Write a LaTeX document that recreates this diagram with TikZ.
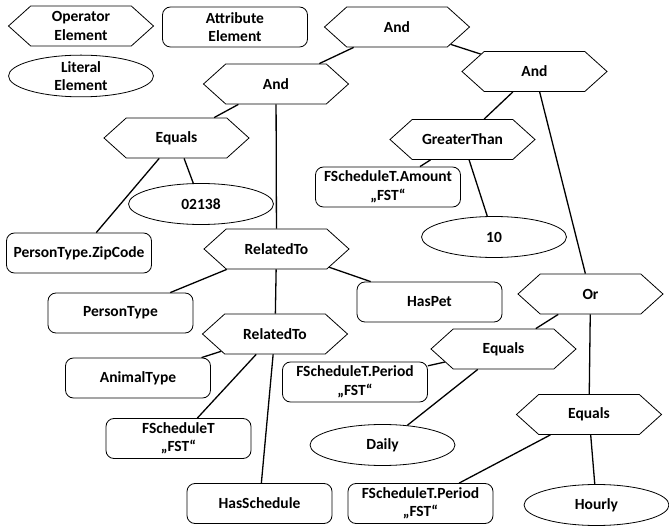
\documentclass[tikz,border=0pt]{standalone}
\usepackage{fontspec}
\setmainfont{Carlito}
\usetikzlibrary{shapes.geometric,shapes.symbols}
\tikzset{
	operator/.style={draw,signal,signal to=west and east,signal pointer angle=84,minimum width=145pt,minimum height=40pt,inner sep=0pt,align=center},
	attribute/.style={draw,rectangle,rounded corners=8pt,minimum width=145pt,minimum height=40pt,inner sep=0pt,align=center},
	literal/.style={draw,ellipse,minimum width=145pt,minimum height=41pt,inner sep=0pt,align=center},
	link/.style={line width=1.3pt}
}
\begin{document}
\begin{tikzpicture}[x=1pt,y=-1pt,line width=0.8pt,font=\fontsize{15.5}{18.5}\selectfont\bfseries]
	\useasboundingbox (0,0) rectangle (669,526);
	\node[operator] (opkey) at (81,26) {Operator\\Element};
	\node[attribute] (attkey) at (235,27) {Attribute\\Element};
	\node[literal] (litkey) at (81,76) {Literal\\Element};
	\node[operator] (and1) at (397,27) {And};
	\node[operator] (and2) at (276,84) {And};
	\node[operator] (and3) at (534.5,71.5) {And};
	\node[operator] (eq1) at (176.5,138) {Equals};
	\node[literal] (zip) at (201,204) {02138};
	\node[attribute] (pzip) at (79,253) {PersonType.ZipCode};
	\node[operator] (rel1) at (276.5,249) {RelatedTo};
	\node[attribute] (person) at (120.5,313) {PersonType};
	\node[attribute] (haspet) at (429.5,302) {HasPet};
	\node[operator] (rel2) at (275,334) {RelatedTo};
	\node[attribute] (animal) at (138,378) {AnimalType};
	\node[attribute] (fsched) at (178.5,438.5) {FScheduleT\\„FST“};
	\node[attribute] (hassched) at (259.5,503.5) {HasSchedule};
	\node[operator] (gt) at (462.5,139.5) {GreaterThan};
	\node[attribute] (amount) at (388,187) {FScheduleT.Amount\\„FST“};
	\node[literal] (ten) at (494,237) {10};
	\node[operator] (or) at (590.5,294) {Or};
	\node[operator] (eq2) at (503.5,349) {Equals};
	\node[attribute] (period1) at (355,382) {FScheduleT.Period\\„FST“};
	\node[literal] (daily) at (382.5,445) {Daily};
	\node[operator] (eq3) at (589,414.5) {Equals};
	\node[attribute] (period2) at (420.5,503.5) {FScheduleT.Period\\„FST“};
	\node[literal] (hourly) at (596.5,505) {Hourly};
	\draw[link] (and1) -- (and2);
	\draw[link] (and1) -- (and3);
	\draw[link] (and2) -- (eq1);
	\draw[link] (and2) -- (rel1);
	\draw[link] (eq1) -- (pzip);
	\draw[link] (eq1) -- (zip);
	\draw[link] (rel1) -- (person);
	\draw[link] (rel1) -- (haspet);
	\draw[link] (rel1) -- (rel2);
	\draw[link] (rel2) -- (animal);
	\draw[link] (rel2) -- (fsched);
	\draw[link] (rel2) -- (hassched);
	\draw[link] (and3) -- (gt);
	\draw[link] (and3) -- (or);
	\draw[link] (gt) -- (amount);
	\draw[link] (gt) -- (ten);
	\draw[link] (or) -- (eq2);
	\draw[link] (or) -- (eq3);
	\draw[link] (eq2) -- (period1);
	\draw[link] (eq2) -- (daily);
	\draw[link] (eq3) -- (period2);
	\draw[link] (eq3) -- (hourly);
\end{tikzpicture}
\end{document}
